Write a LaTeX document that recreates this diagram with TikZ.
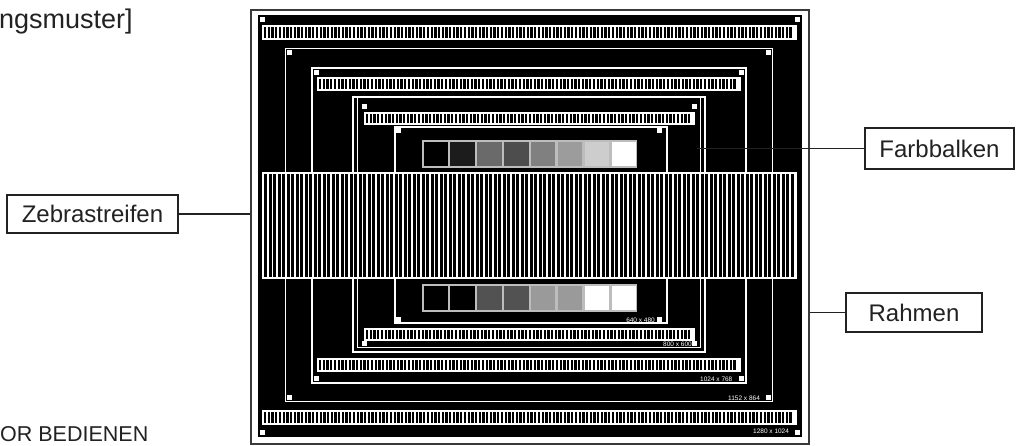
\documentclass[tikz,border=0pt]{standalone}
\usepackage{fontspec}
\setmainfont{Liberation Sans}
\definecolor{ink}{HTML}{222222}
\definecolor{frameg}{HTML}{3A3A3A}
\definecolor{cbframe}{HTML}{BDBDBD}
\definecolor{ga}{HTML}{1C1C1C}
\definecolor{gb}{HTML}{6A6A6A}
\definecolor{gc}{HTML}{4D4D4D}
\definecolor{gd}{HTML}{808080}
\definecolor{ge}{HTML}{9C9C9C}
\definecolor{gf}{HTML}{CDCDCD}
\definecolor{gg}{HTML}{525252}
\definecolor{gh}{HTML}{9A9A9A}
\newcommand{\zband}[6]{%
  \fill[white] (#1,#2) rectangle (#3,#4);
  \pgfmathtruncatemacro{\zn}{(#3-#1-4-#6)/#5}
  \foreach \i in {0,...,\zn}{
    \fill[black] ({#1+2+\i*#5},{#2+1.6}) rectangle ({#1+2+\i*#5+#6},{#4-1.6});
  }
}
\newcommand{\cbar}[3]{%
  \fill[cbframe] (422,#1) rectangle (637,#2);
  \foreach \c [count=\k from 0] in {#3}{
    \fill[\c] ({423.5+\k*26.875},{#1+1.6}) rectangle ({422+(\k+1)*26.875-1},{#2-1.6});
  }
}
\newcommand{\csq}[2]{\fill[white] (#1,#2) rectangle ++(5,5);}
\tikzset{
  wline/.style={draw=white, line width=1.5pt},
  labelbox/.style={draw=ink, line width=2pt, text=ink, font=\fontsize{24}{28}\selectfont, inner sep=0pt},
  conn/.style={draw=ink, line width=1.7pt},
  tiny/.style={text=white, font=\fontsize{6.5}{7}\selectfont, inner sep=0pt}
}
\begin{document}
\begin{tikzpicture}[x=1pt,y=-1pt]
\useasboundingbox (0,0) rectangle (1023,446);
\fill[white] (0,0) rectangle (1023,446);
% outer frame
\node[draw=frameg, line width=1.6pt, minimum width=558pt, minimum height=434pt, anchor=north west, inner sep=0pt] (frame) at (250,9) {};
\fill[black] (258,15) rectangle (802,437);
% level 1
\csq{260}{17}\csq{795}{17}\csq{260}{430}\csq{795}{430}
\zband{262}{25}{797}{40}{3.7}{2.3}
\zband{262}{410}{797}{425}{3.7}{2.3}
% level 2
\draw[wline] (285.5,48.5) rectangle (772.5,401.5);
\csq{287}{50}\csq{766}{50}\csq{287}{395}\csq{766}{395}
% level 3
\draw[wline] (312,68) rectangle (746,383);
\csq{314}{70}\csq{739}{70}\csq{314}{376}\csq{739}{376}
\zband{317}{77}{741}{91}{3.7}{2.3}
\zband{317}{358}{741}{372}{3.7}{2.3}
% level 4
\draw[wline] (353,97) rectangle (705,352);
\draw[wline] (357.5,97) -- (357.5,347.5) -- (700.5,347.5) -- (700.5,97);
\csq{362}{104}\csq{692}{104}\csq{362}{341}\csq{692}{341}
\zband{364}{112}{695}{125}{3.7}{2.3}
\zband{364}{328}{695}{341}{3.7}{2.3}
% level 5
\draw[wline] (395,127) rectangle (667,323);
\csq{396}{128}\csq{657}{128}\csq{396}{317}\csq{657}{317}
% colour bars
\cbar{140}{168}{black,ga,gb,gc,gd,ge,gf,white}
\cbar{284}{312}{black,black,gg,gg,gh,gh,white,white}
% central zebra
\zband{262}{172}{797}{279}{4.5}{3.1}
% resolution labels
\node[tiny, anchor=east] at (655,320) {640 x 480};
\node[tiny, anchor=west] at (663,344) {800 x 600};
\node[tiny, anchor=west] at (700,379) {1024 x 768};
\node[tiny, anchor=west] at (728,398) {1152 x 864};
\node[tiny, anchor=west] at (753,431) {1280 x 1024};
% captions
\node[anchor=base west, inner sep=0pt, text=ink, font=\fontsize{27}{30}\selectfont] (title) at (-1,29) {ngsmuster]};
\node[anchor=base west, inner sep=0pt, text=ink, font=\fontsize{21.5}{26}\selectfont] (foot) at (0,441) {OR BEDIENEN};
% labels
\node[labelbox, minimum width=171pt, minimum height=38pt] (zb) at (92.5,214) {Zebrastreifen};
\node[labelbox, minimum width=149pt, minimum height=41pt] (fb) at (939.5,148.5) {Farbbalken};
\node[labelbox, minimum width=136pt, minimum height=39pt] (rb) at (914,312.5) {Rahmen};
\coordinate (fbend) at (697,148.5);
\draw[conn] (zb.east) -- (zb.east -| frame.west);
\draw[conn] (fb.west) -- (fbend);
\draw[conn] (rb.west) -- (rb.west -| frame.east);
\end{tikzpicture}
\end{document}
